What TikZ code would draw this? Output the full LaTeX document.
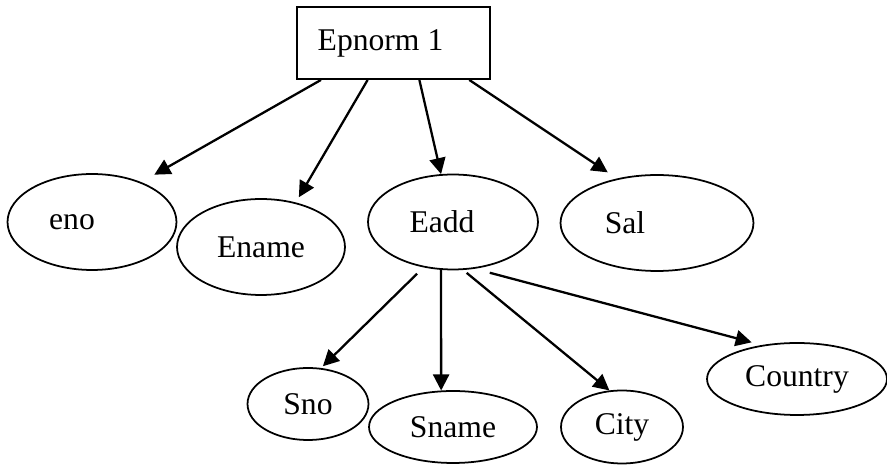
\documentclass[tikz,border=0pt]{standalone}
\usepackage{fontspec}
\setmainfont{Liberation Serif}
\usetikzlibrary{shapes.geometric, arrows.meta}

\begin{document}
\begin{tikzpicture}[x=0.02cm, y=-0.02cm,
  attr/.style={draw, ellipse, line width=1pt, inner sep=0pt, minimum height=1.44cm,
    font=\fontsize{18}{21}\selectfont},
  entity/.style={draw, rectangle, line width=1.1pt, inner sep=0pt,
    minimum width=3.86cm, minimum height=1.44cm, font=\fontsize{18}{21}\selectfont},
  link/.style={line width=1.3pt, -{Triangle[length=0.32cm, width=0.32cm]}}]

  \useasboundingbox (0,0) rectangle (887,465);

  % root box
  \node[entity] (root) at (393.5,43) {Epnorm 1\kern0.52cm};

  % first level attributes
  \node[attr, minimum width=3.38cm, minimum height=1.92cm] (eno) at (92,222) {eno\kern0.8cm};
  \node[attr, minimum width=3.36cm, minimum height=1.92cm] (ename) at (261,247) {Ename};
  \node[attr, minimum width=3.40cm, minimum height=1.90cm] (eadd) at (453,222) {Eadd\kern0.44cm};
  \node[attr, minimum width=3.86cm, minimum height=1.92cm] (sal) at (657,223) {Sal\kern1.28cm};

  % parts of the address
  \node[attr, minimum width=2.42cm] (sno) at (308,404) {Sno};
  \node[attr, minimum width=3.36cm] (sname) at (453,427) {Sname};
  \node[attr, minimum width=2.44cm, minimum height=1.46cm] (city) at (622,427) {City};
  \node[attr, minimum width=3.60cm] (country) at (797,379) {Country};

  % root -> attributes
  \draw[link, shorten >=0.3cm] (root.-153.9) -- (eno.39.5);
  \draw[link, shorten >=0.12cm] (root.-125.3) -- (ename.52.9);
  \draw[link] (root.-55.8) -- (eadd.104.9);
  \draw[link, shorten >=0.22cm] (root.-26.7) -- (sal.132.1);

  % Eadd -> parts
  \draw[link, shorten <=0.18cm, shorten >=0.05cm] (eadd.-123.5) -- (sno.70.9);
  \draw[link] (eadd.-104.3) -- (sname.108.6);
  \draw[link, shorten <=0.09cm] (eadd.-78.5) -- (city.109.4);
  \draw[link, shorten <=0.31cm, shorten >=0.21cm] (eadd.-65.3) -- (country.136.3);

\end{tikzpicture}
\end{document}
